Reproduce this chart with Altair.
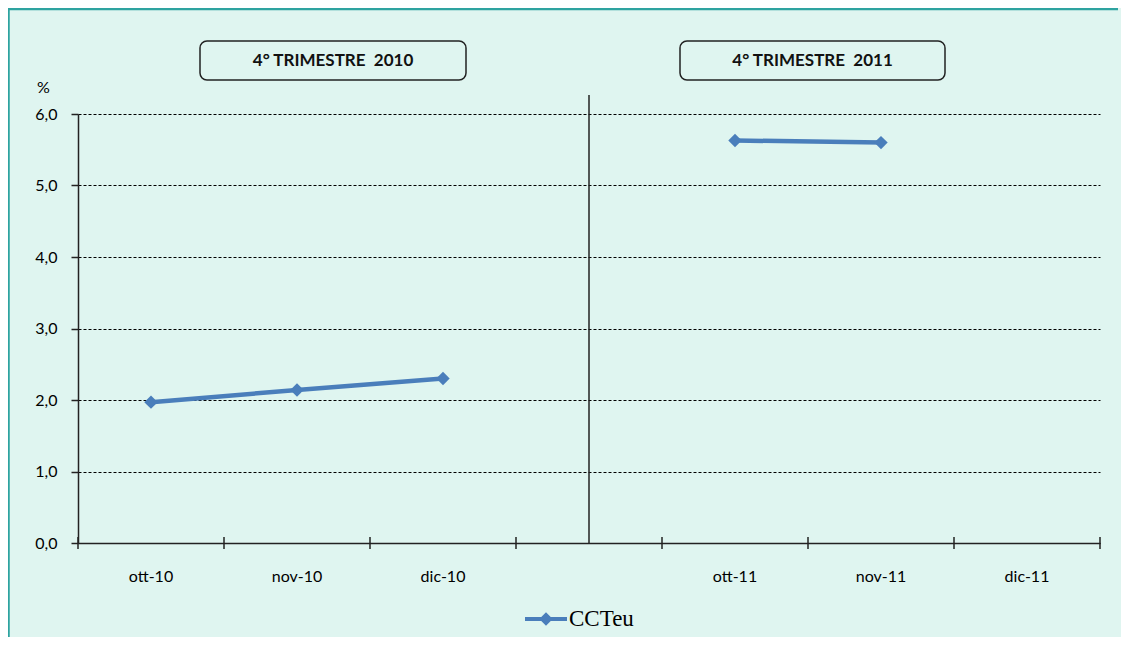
import altair as alt
import pandas as pd

# ---- data ----
categories = ["ott-10", "nov-10", "dic-10", "sep", "ott-11", "nov-11", "dic-11"]
series_name = "CCTeu"
months = ["ott-10", "nov-10", "dic-10", "ott-11", "nov-11"]
values = [1.97, 2.14, 2.30, 5.63, 5.60]
groups = ["2010", "2010", "2010", "2011", "2011"]
y_ticks = [0, 1, 2, 3, 4, 5, 6]
panel_titles = ["4° TRIMESTRE\u00a0 2010", "4° TRIMESTRE\u00a0 2011"]

df = pd.DataFrame({"mese": months, "valore": values, "gruppo": groups,
                   "serie": [series_name] * len(months)})

# ---- layout ----
W, H = 1022, 429
PAD = {"left": 70, "top": 106, "right": 21, "bottom": 94}
BLUE = "#4a7ebb"
INK = "#222222"
TEAL = "#2ea3a0"

xscale = alt.Scale(type="band", domain=categories, paddingInner=0, paddingOuter=0)
yscale = alt.Scale(domain=[0, 6], nice=False)

xaxis = alt.Axis(labelExpr="datum.value == 'sep' ? '' : datum.value", ticks=False,
                 domainColor=INK, domainWidth=1.5, labelPadding=25, labelFont="Lato",
                 labelFontSize=16, labelColor="#000", labelAngle=0, grid=False, title=None)
yaxis = alt.Axis(values=y_ticks, labelExpr="replace(format(datum.value, '.1f'), '.', ',')",
                 grid=True, gridDash=[3, 2], gridColor="#000", gridWidth=1,
                 domainColor=INK, domainWidth=1.5, tickColor=INK, tickSize=7, tickWidth=1.5,
                 labelPadding=14, labelFont="Lato", labelFontSize=16, labelColor="#000",
                 title="%", titleAngle=0, titleX=-35, titleY=-27, titleAlign="center",
                 titleBaseline="middle", titleFont="Lato", titleFontSize=16,
                 titleFontWeight="normal", titleColor="#000")

one = pd.DataFrame({"k": [0]})

frame_left = alt.Chart(one).mark_rule(color=TEAL, strokeWidth=2.5).encode(
    x=alt.value(-69.5), y=alt.value(-106), y2=alt.value(H + PAD["bottom"]))
frame_top = alt.Chart(one).mark_rule(color=TEAL, strokeWidth=2.5).encode(
    x=alt.value(-70), x2=alt.value(W + PAD["right"] - 3), y=alt.value(-105))

layers = [frame_left, frame_top]
box_x = [(122, 388), (602, 867)]
for (x0, x1), t in zip(box_x, panel_titles):
    layers.append(alt.Chart(one).mark_rect(fill="transparent", stroke=INK, strokeWidth=1.5,
                                           cornerRadius=7).encode(
        x=alt.value(x0), x2=alt.value(x1), y=alt.value(-73), y2=alt.value(-34)))
    layers.append(alt.Chart(pd.DataFrame({"t": [t]})).mark_text(
        font="Lato", fontSize=17, fontWeight="bold", color="#111", align="center",
        baseline="middle").encode(text="t:N", x=alt.value((x0 + x1) / 2), y=alt.value(-53)))

sep = alt.Chart(pd.DataFrame({"mese": ["sep"]})).mark_rule(color=INK, strokeWidth=1.5).encode(
    x=alt.X("mese:N", scale=xscale, axis=xaxis), y=alt.value(-19), y2=alt.value(H))

ticks = alt.Chart(pd.DataFrame({"mese": categories})).mark_rule(color=INK, strokeWidth=1.5).encode(
    x=alt.X("mese:N", scale=xscale, axis=xaxis, bandPosition=0),
    y=alt.value(H - 6), y2=alt.value(H + 6))
last_tick = alt.Chart(pd.DataFrame({"mese": [categories[-1]]})).mark_rule(
    color=INK, strokeWidth=1.5).encode(
    x=alt.X("mese:N", scale=xscale, axis=xaxis, bandPosition=1),
    y=alt.value(H - 6), y2=alt.value(H + 6))

line = alt.Chart(df).mark_line(color=BLUE, strokeWidth=4.5).encode(
    x=alt.X("mese:N", scale=xscale, axis=xaxis),
    y=alt.Y("valore:Q", scale=yscale, axis=yaxis),
    detail="gruppo:N")

symbol_path = "M-1,-0.1L1,-0.1L1,0.1L-1,0.1Z M0,-0.32L0.32,0L0,0.32L-0.32,0Z"
points = alt.Chart(df).mark_point(shape="diamond", filled=True, size=180, opacity=1).encode(
    x=alt.X("mese:N", scale=xscale, axis=xaxis),
    y=alt.Y("valore:Q", scale=yscale, axis=yaxis),
    color=alt.Color("serie:N", scale=alt.Scale(range=[BLUE]),
                    legend=alt.Legend(title=None, orient="none", legendX=447, legendY=484,
                                      symbolType=symbol_path, symbolSize=1764,
                                      symbolStrokeWidth=0, symbolFillColor=BLUE,
                                      labelFont="Liberation Serif", labelFontSize=23,
                                      labelColor="#000", labelOffset=2)))

layers += [sep, ticks, last_tick, line, points]

chart = alt.layer(*layers).properties(
    width=W, height=H, padding=PAD, autosize=alt.AutoSizeParams(type="none"),
    background="#dff5f0"
).configure_view(stroke="transparent")

chart.save("out.html", embed_options={"renderer": "svg", "actions": False})
